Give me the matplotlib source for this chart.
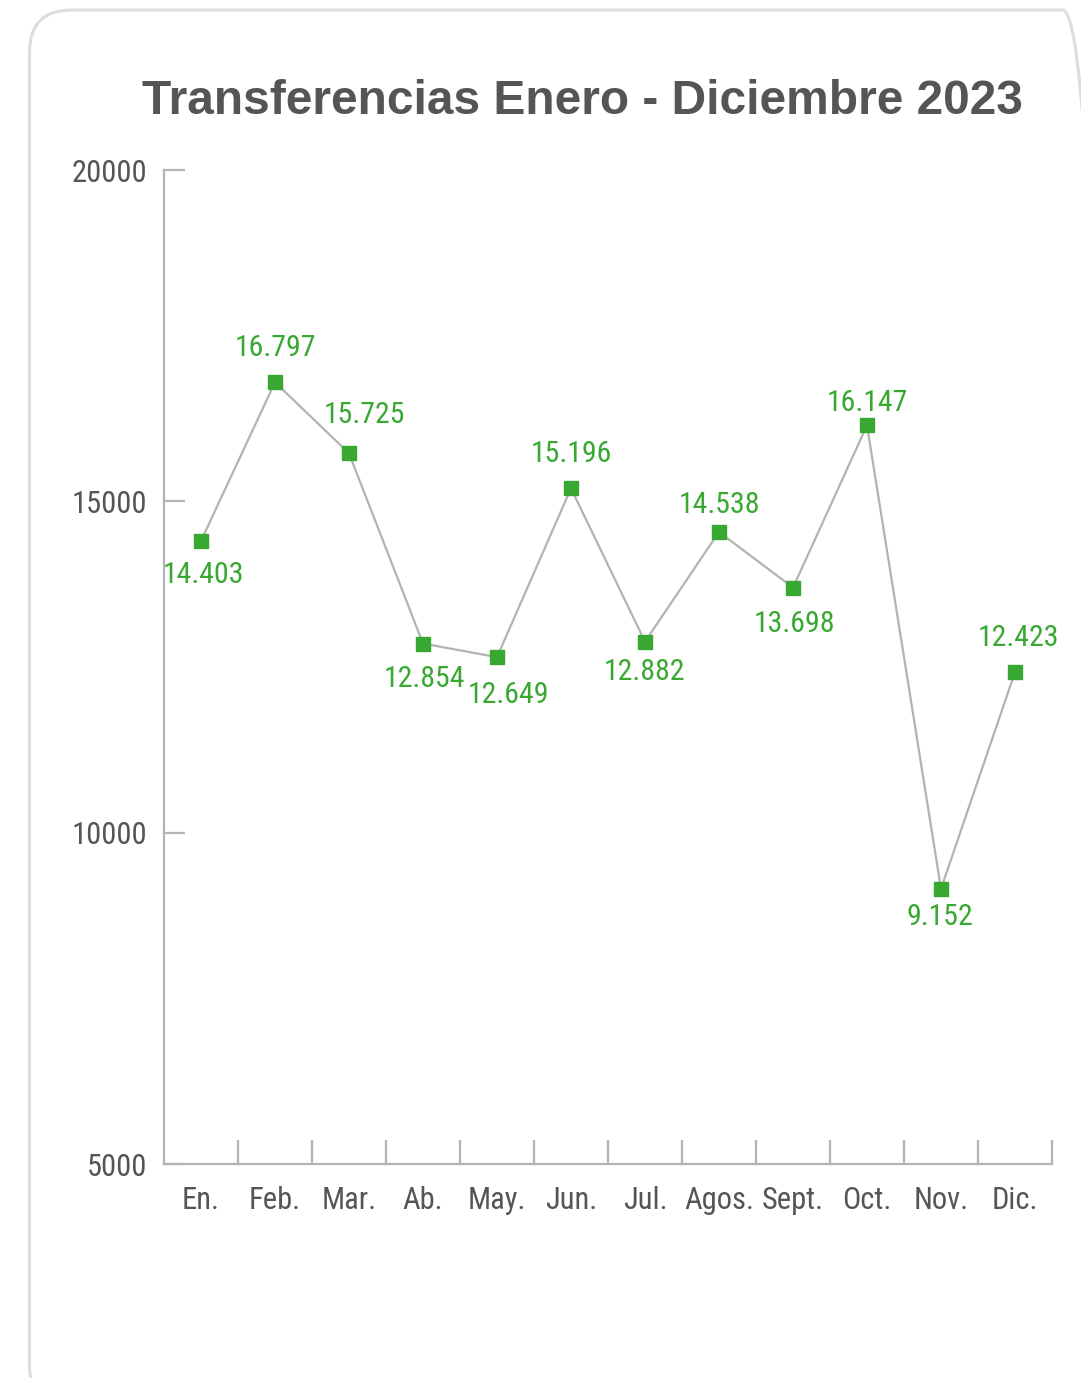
import matplotlib
matplotlib.use("Agg")
import matplotlib.pyplot as plt
from matplotlib import font_manager
from matplotlib.patches import FancyBboxPatch

# ---- data ----
months = ["En.", "Feb.", "Mar.", "Ab.", "May.", "Jun.", "Jul.", "Agos.", "Sept.", "Oct.", "Nov.", "Dic."]
transfers = [14403, 16797, 15725, 12854, 12649, 15196, 12882, 14538, 13698, 16147, 9152, 12423]
y_ticks = [5000, 10000, 15000, 20000]
title = "Transferencias Enero - Diciembre 2023"

# label placement (pixel offset from the point, y up)
label_offsets = [(2, -34), (0, 34), (15, 38), (1, -35), (11, -38), (0, 34),
                 (-1, -30), (0, 27), (1, -36), (0, 22), (-1, -28), (3, 34)]

names = {f.name for f in font_manager.fontManager.ttflist}
cond = None
for c in ["Roboto Condensed", "Liberation Sans Narrow", "DejaVu Sans Condensed", "Open Sans Condensed"]:
    if c in names:
        cond = c
        break
if cond is None:
    cond = "DejaVu Sans"
    stretch = "condensed"
else:
    stretch = "normal"

GREEN = "#38a832"
GREY = "#b3b3b3"
TXT = "#555555"

fig = plt.figure(figsize=(10.81, 13.78), dpi=100)
fig.patch.set_facecolor("white")

# rounded frame
frame = FancyBboxPatch((0.295, -0.30), 10.75, 13.98,
                       boxstyle="round,pad=0,rounding_size=0.42",
                       transform=fig.dpi_scale_trans, facecolor="none",
                       edgecolor="#dddddd", linewidth=2.2, zorder=-5)
fig.patches.append(frame)

ax = fig.add_axes([164/1081, 1-1164/1378, (1052-164)/1081, (1164-170)/1378])
ax.set_facecolor("none")
ax.set_zorder(2)

x = list(range(len(months)))
ax.plot(x, transfers, color=GREY, linewidth=1.6, zorder=2)
ax.plot(x, transfers, linestyle="none", marker="s", markersize=10.5,
        markerfacecolor=GREEN, markeredgecolor=GREEN, zorder=3)

for xi, v, (dx, dy) in zip(x, transfers, label_offsets):
    ax.annotate(f"{v:,}".replace(",", "."), (xi, v), xytext=(dx, dy),
                textcoords="offset pixels", ha="center", va="center",
                color=GREEN, fontsize=21.5, family=cond, fontstretch=stretch, zorder=4)

ax.set_xlim(-0.5, len(months) - 0.5)
ax.set_ylim(5000, 20000)
ax.set_yticks(y_ticks)
ax.set_yticklabels([str(t) for t in y_ticks])
ax.set_xticks(x)
ax.set_xticklabels(months)
ax.set_xticks([i + 0.5 for i in x], minor=True)

for s in ["top", "right"]:
    ax.spines[s].set_visible(False)
for s in ["left", "bottom"]:
    ax.spines[s].set_color(GREY)
    ax.spines[s].set_linewidth(1.6)

ax.tick_params(axis="y", direction="in", length=15, width=1.6, color=GREY,
               labelsize=22, labelcolor=TXT, pad=12)
ax.tick_params(axis="x", which="major", length=0, labelsize=22, labelcolor=TXT, pad=16)
ax.tick_params(axis="x", which="minor", direction="in", length=17, width=1.6, color=GREY)
for lbl in ax.get_xticklabels() + ax.get_yticklabels():
    lbl.set_family(cond)
    lbl.set_fontstretch(stretch)

fig.text(582/1081, 1-101/1378, title, ha="center", va="center",
         fontsize=34.5, fontweight="bold", color=TXT, family="Liberation Sans")

fig.savefig("out.png", dpi=100, facecolor="white")
